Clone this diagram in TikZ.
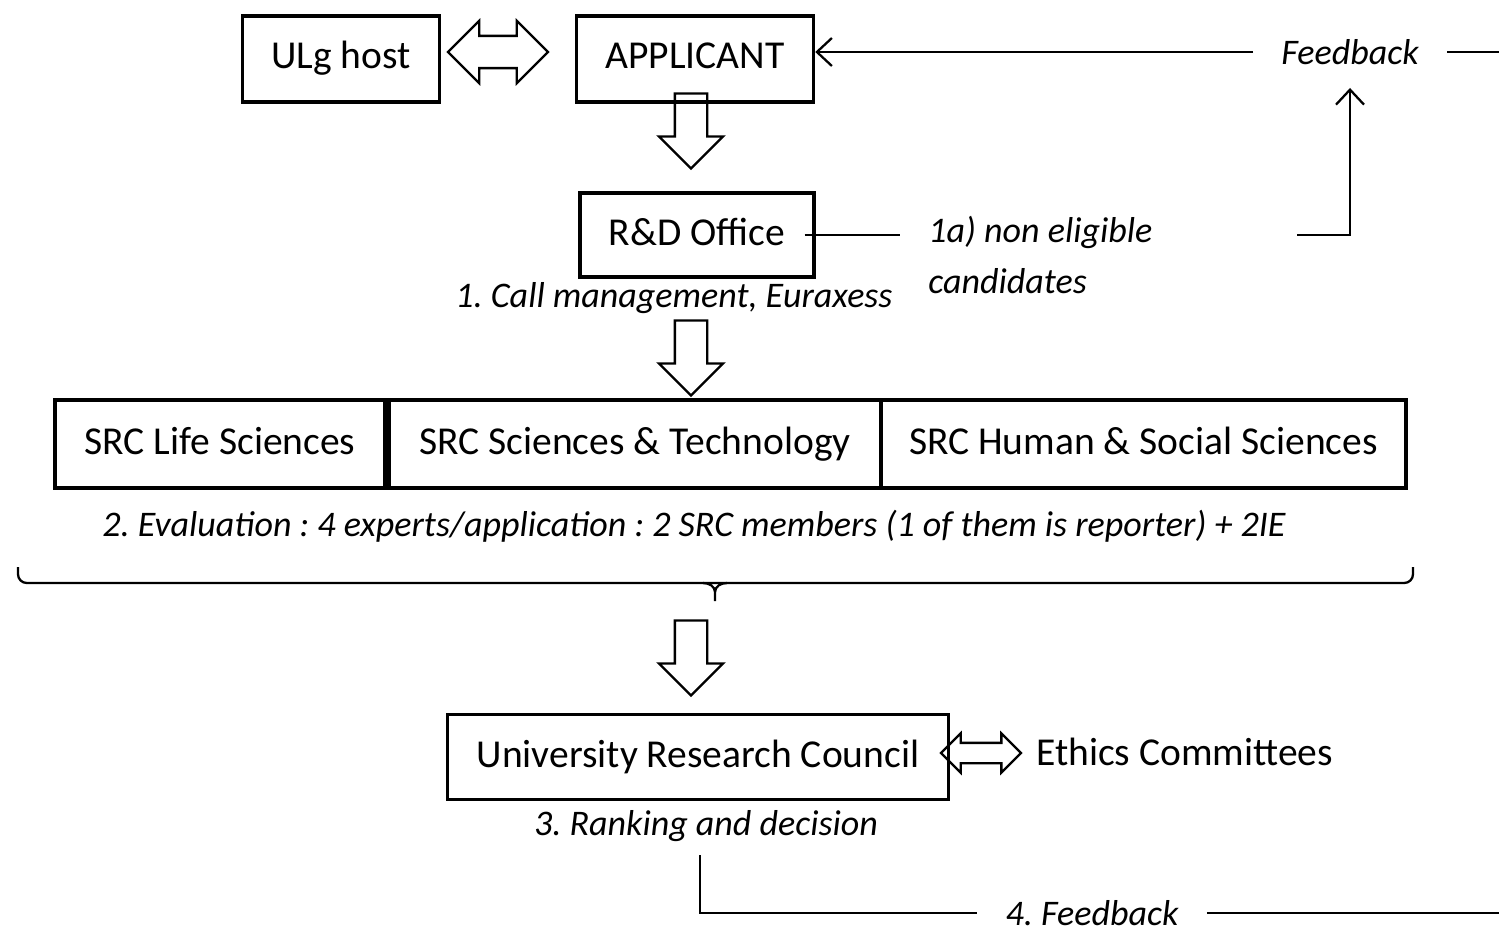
\documentclass[tikz,border=0pt]{standalone}
\usepackage{fontspec}
\setmainfont{Carlito}
\usepackage{xcolor}
\usetikzlibrary{shapes.arrows}
\usetikzlibrary{arrows.meta}
\frenchspacing

\tikzset{
  box/.style={draw, line width=2pt, inner sep=0pt, text height=0.6cm, text depth=0.2cm,
    font=\fontsize{22.5}{27}\selectfont},
  note/.style={font=\itshape\fontsize{20.5}{29.5}\selectfont, inner xsep=0.56cm, inner ysep=0.1cm},
  down/.style={draw, line width=1.3pt, single arrow, shape border rotate=270, inner sep=0.3cm,
    single arrow head extend=0.32cm, minimum height=1.5cm},
  both/.style={draw, line width=1.3pt, double arrow},
  link/.style={line width=1.3pt, >={Straight Barb[length=0.3cm,width=0.56cm]}}
}

\begin{document}
\begin{tikzpicture}[x=0.02cm,y=0.02cm]
    \useasboundingbox (0,0) rectangle (1499,-933);
    \path (341,-59) node [box, minimum width=3.94cm, minimum height=1.72cm] (ulg) {ULg host};
    \path (695,-59) node [box, minimum width=4.74cm, minimum height=1.72cm] (app) {APPLICANT};
    \path (498,-52) node [both, inner sep=0.3cm, double arrow head extend=0.3cm, minimum height=2cm] (ua) {};
    \path (1350,-52) node [note] (fb) {Feedback} (1499,-52) coordinate (fbout);
    \draw [link,->] (fb.west) -- (fb.west -| app.east);
    \draw [link] (fb.east) -- (fbout);
    \path (691,-123) node [down] (a1) {};
    \path (697,-235) node [box, minimum width=4.68cm, minimum height=1.68cm] (rd) {R\&D Office};
    \path (900,-255) node [note, align=left, anchor=west] (nel) {1a) non eligible\\candidates};
    \draw [link] ([xshift=-0.22cm]rd.east) -- (rd.east -| nel.west);
    \path (1297,-235) coordinate (nelout);
    \draw [link,->,shorten >=0.36cm] (nelout) -| (fb.south);
    \path (674,-298) node [note] (call) {1. Call management, Euraxess};
    \path (691,-350) node [down] (a2) {};
    \path (220,-444) node [box, minimum width=6.6cm, minimum height=1.76cm] (life) {SRC Life Sciences};
    \path (635,-444) node [box, minimum width=9.84cm, minimum height=1.76cm] (tech) {SRC Sciences \& Technology};
    \path (1143.5,-444) node [box, minimum width=10.5cm, minimum height=1.76cm] (hss) {SRC Human \& Social Sciences};
    \path (694,-526) node [note] (eval) {2. Evaluation : 4 experts/application : 2 SRC members (1 of them is reporter) + 2IE};
    % brace
    \draw [link, rounded corners=5pt] (18,-567) -- (18,-583) -- (1413,-583) -- (1413,-567);
    \draw [link] (703,-583) to[out=0,in=90] (715,-592) -- (715,-601);
    \draw [link] (727,-583) to[out=180,in=90] (715,-592);
    \path (691,-650) node [down] (a3) {};
    \path (698,-757) node [box, minimum width=10.02cm, minimum height=1.7cm] (urc) {University Research Council};
    \path (981,-753) node [both, inner sep=0.18cm, double arrow head extend=0.19cm, minimum height=1.6cm] (ea) {};
    \path (1036,-752) node [anchor=west, inner sep=0pt, font=\fontsize{22.5}{27}\selectfont] (eth) {Ethics Committees};
    \path (706,-826) node [note] (rank) {3. Ranking and decision};
    \path (1092,-913) node [note] (fb4) {4. Feedback} (700,-855) coordinate (rkout) (1499,-913) coordinate (fb4out);
    \draw [link] (rkout) |- (fb4.west);
    \draw [link] (fb4.east) -- (fb4out);
\end{tikzpicture}
\end{document}
